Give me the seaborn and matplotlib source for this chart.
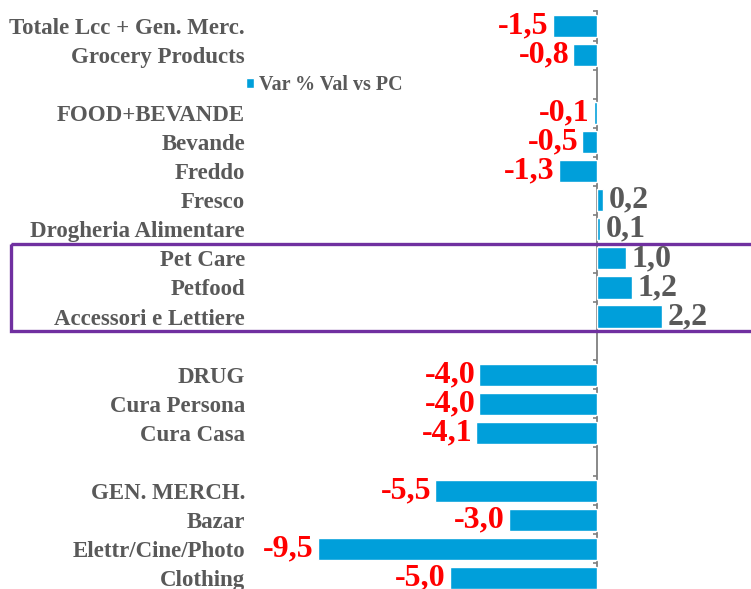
import numpy as np
import pandas as pd
import seaborn as sns
import matplotlib.pyplot as plt
from matplotlib.patches import Rectangle
from matplotlib.transforms import blended_transform_factory

# Categories (blank strings are spacer rows)
categories = ["Totale Lcc + Gen. Merc.", "Grocery Products", " ",
              "FOOD+BEVANDE", "Bevande", "Freddo", "Fresco", "Drogheria Alimentare",
              "Pet Care", "Petfood", "Accessori e Lettiere", "  ",
              "DRUG", "Cura Persona", "Cura Casa", "   ",
              "GEN. MERCH.", "Bazar", "Elettr/Cine/Photo", "Clothing"]
values = [-1.5, -0.8, np.nan,
          -0.1, -0.5, -1.3, 0.2, 0.1,
          1.0, 1.2, 2.2, np.nan,
          -4.0, -4.0, -4.1, np.nan,
          -5.5, -3.0, -9.5, -5.0]
series_name = "Var % Val vs PC"
highlight = ["Pet Care", "Petfood", "Accessori e Lettiere"]

df = pd.DataFrame({"cat": categories, "val": values})

sns.set_style("white")
plt.rcParams["font.family"] = ["Liberation Serif", "DejaVu Serif"]
plt.rcParams["font.weight"] = "bold"

W, H = 751, 589
fig = plt.figure(figsize=(W / 100, H / 100), dpi=100)
# axes from x=250px to right edge, top at 11.5px to bottom
ax = fig.add_axes([250 / W, 0, 1 - 250 / W, (H - 11.5) / H])

bar_blue = "#009FDA"
grey_txt = "#595959"
sns.barplot(data=df.dropna(), x="val", y="cat", order=categories, orient="h",
            color=bar_blue, saturation=1, width=0.76, label=series_name, ax=ax)

px_per_unit = 29.4
ax.set_xlim(-(597 - 250) / px_per_unit, (W - 597) / px_per_unit)
n = len(categories)
ax.set_ylim(-0.5 + (H - 11.5) / 29.05, -0.5)

for s in ax.spines.values():
    s.set_visible(False)
ax.set_xticks([])
ax.set_xlabel("")
ax.set_ylabel("")
ax.tick_params(axis="y", length=0, pad=3.6, labelsize=16.5, labelcolor=grey_txt)
for t in ax.get_yticklabels():
    t.set_fontweight("bold")

# zero axis with boundary ticks
sec = ax.secondary_yaxis(0, transform=ax.transData)
sec.set_yticks(np.arange(-0.5, n, 1.0))
sec.set_yticklabels([])
sec.tick_params(axis="y", length=3, width=1.2, color="#7f7f7f", direction="out")
sec.spines["left"].set_color("#7f7f7f")
sec.spines["left"].set_linewidth(1.3)

# value labels
for i, v in enumerate(values):
    if np.isnan(v):
        continue
    txt = f"{v:.1f}".replace(".", ",")
    if v < 0:
        ax.annotate(txt, (v, i), xytext=(-3, 0), textcoords="offset points",
                    ha="right", va="center", fontsize=23, fontweight="bold", color="#FF0000")
    else:
        ax.annotate(txt, (v, i), xytext=(4, 0), textcoords="offset points",
                    ha="left", va="center", fontsize=23, fontweight="bold", color=grey_txt)

# legend
leg = ax.legend(loc="center left", bbox_to_anchor=(246 / W, 1 - 85 / H),
                bbox_transform=fig.transFigure, frameon=False, fontsize=14.4,
                handlelength=0.4, handleheight=0.4, handletextpad=0.25,
                borderpad=0, borderaxespad=0)
for t in leg.get_texts():
    t.set_color(grey_txt)
    t.set_fontweight("bold")

# purple box around the pet rows
first = categories.index(highlight[0])
trans = blended_transform_factory(fig.transFigure, ax.transData)
ax.add_patch(Rectangle((11 / W, first - 0.5), 1.2, len(highlight), transform=trans,
                       fill=False, edgecolor="#7030A0", linewidth=2.4, clip_on=False))

fig.savefig("out.png", dpi=100)
